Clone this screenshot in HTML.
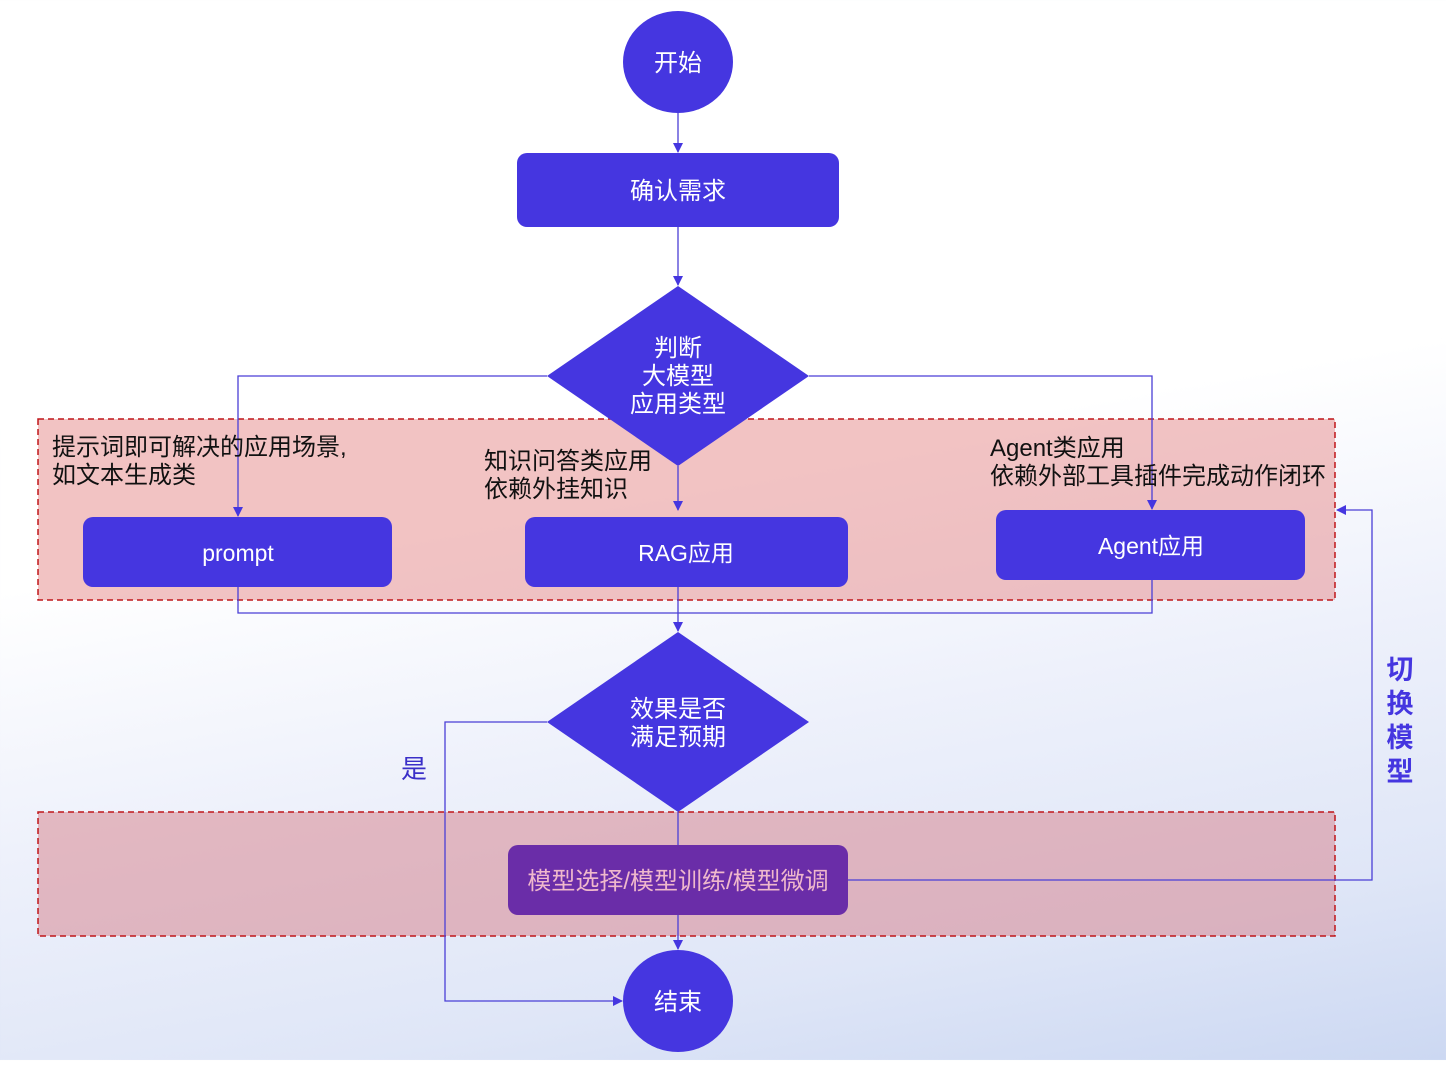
<!DOCTYPE html>
<html><head><meta charset="utf-8"><style>
html,body{margin:0;padding:0;}
body{width:1446px;height:1060px;overflow:hidden;background:linear-gradient(170deg,#ffffff 0%,#ffffff 45%,#eef1fb 65%,#dfe6f7 85%,#ccd8f2 100%);font-family:"Liberation Sans","Noto Sans CJK SC",sans-serif;}
svg text{font-family:"Liberation Sans","Noto Sans CJK SC",sans-serif;}
</style></head><body>
<svg width="1446" height="1060" viewBox="0 0 1446 1060" xmlns="http://www.w3.org/2000/svg">
<defs>
<marker id="a" markerWidth="10" markerHeight="10" refX="9" refY="5" orient="auto" markerUnits="userSpaceOnUse"><path d="M0,0 L10,5 L0,10 z" fill="#4536e0"/></marker>
</defs>
<rect x="38" y="419" width="1297" height="181" fill="rgba(230,140,140,0.52)" stroke="#c0161a" stroke-width="1.5" stroke-dasharray="6,4"/>
<rect x="38" y="812" width="1297" height="124" fill="rgba(215,130,140,0.52)" stroke="#c0161a" stroke-width="1.5" stroke-dasharray="6,4"/>
<g stroke="#4a3fd6" stroke-width="1.3" fill="none">
<line x1="678" y1="113" x2="678" y2="152" marker-end="url(#a)"/>
<line x1="678" y1="227" x2="678" y2="285" marker-end="url(#a)"/>
<polyline points="547,376 238,376 238,516" marker-end="url(#a)"/>
<polyline points="809,376 1152,376 1152,509" marker-end="url(#a)"/>
<line x1="678" y1="466" x2="678" y2="510" marker-end="url(#a)"/>
<polyline points="238,587 238,613 1152,613 1152,580"/>
<line x1="678" y1="587" x2="678" y2="631" marker-end="url(#a)"/>
<line x1="678" y1="812" x2="678" y2="845"/>
<line x1="678" y1="915" x2="678" y2="949" marker-end="url(#a)"/>
<polyline points="547,722 445,722 445,1001 622,1001" marker-end="url(#a)"/>
<polyline points="848,880 1372,880 1372,510 1337,510" marker-end="url(#a)"/>
</g>
<ellipse cx="678" cy="62" rx="55" ry="51" fill="#4536e0"/>
<text x="678" y="71" fill="#fff" font-size="24" text-anchor="middle">开始</text>
<rect x="517" y="153" width="322" height="74" rx="10" fill="#4536e0"/>
<text x="678" y="199" fill="#fff" font-size="24" text-anchor="middle">确认需求</text>
<polygon points="678,286 809,376 678,466 547,376" fill="#4536e0"/>
<text fill="#fff" font-size="24" text-anchor="middle"><tspan x="678" y="356">判断</tspan><tspan x="678" y="384">大模型</tspan><tspan x="678" y="412">应用类型</tspan></text>
<rect x="83" y="517" width="309" height="70" rx="10" fill="#4536e0"/>
<text x="238" y="561" fill="#fff" font-size="23" text-anchor="middle">prompt</text>
<rect x="525" y="517" width="323" height="70" rx="10" fill="#4536e0"/>
<text x="686" y="561" fill="#fff" font-size="23" text-anchor="middle">RAG应用</text>
<rect x="996" y="510" width="309" height="70" rx="10" fill="#4536e0"/>
<text x="1151" y="554" fill="#fff" font-size="23" text-anchor="middle">Agent应用</text>
<polygon points="678,632 809,722 678,812 547,722" fill="#4536e0"/>
<text fill="#fff" font-size="24" text-anchor="middle"><tspan x="678" y="717">效果是否</tspan><tspan x="678" y="745">满足预期</tspan></text>
<rect x="508" y="845" width="340" height="70" rx="10" fill="#6a2da8"/>
<text x="678" y="889" fill="#efb8cc" font-size="24" text-anchor="middle">模型选择/模型训练/模型微调</text>
<ellipse cx="678" cy="1001" rx="55" ry="51" fill="#4536e0"/>
<text x="678" y="1010" fill="#fff" font-size="24" text-anchor="middle">结束</text>
<text fill="#111" font-size="24"><tspan x="52" y="455">提示词即可解决的应用场景,</tspan><tspan x="52" y="483">如文本生成类</tspan></text>
<text fill="#111" font-size="24"><tspan x="484" y="469">知识问答类应用</tspan><tspan x="484" y="497">依赖外挂知识</tspan></text>
<text fill="#111" font-size="24"><tspan x="990" y="456">Agent类应用</tspan><tspan x="990" y="484">依赖外部工具插件完成动作闭环</tspan></text>
<text x="401" y="778" fill="#3a2fc8" font-size="26">是</text>
<text fill="#4536e0" font-size="27" font-weight="bold" text-anchor="middle"><tspan x="1400" y="679">切</tspan><tspan x="1400" y="713">换</tspan><tspan x="1400" y="747">模</tspan><tspan x="1400" y="781">型</tspan></text>
</svg>
</body></html>
